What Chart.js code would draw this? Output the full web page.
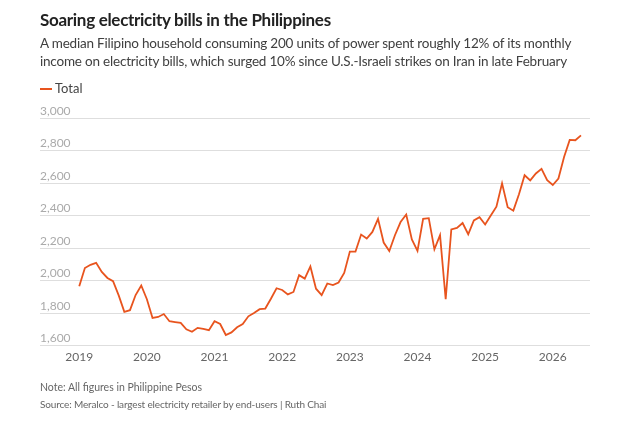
<!DOCTYPE html>
<html>
<head>
<meta charset="utf-8">
<script src="https://cdn.jsdelivr.net/npm/chart.js@4"></script>
<style>
  body { margin: 0; background: #fff; }
  #wrap { position: relative; width: 640px; height: 421px; overflow: hidden; font-family: Lato, sans-serif; }
  #chart { position: absolute; left: 0; top: 0; }
  .title { position: absolute; left: 40px; top: 9px; font-size: 17px; line-height: 22px; font-weight: 700; color: #222; letter-spacing: -0.3px; }
  .sub { position: absolute; left: 40px; top: 34px; font-size: 13.5px; line-height: 18px; color: #404040; width: 590px; letter-spacing: -0.2px; }
  .legend { position: absolute; left: 40px; top: 80px; font-size: 13px; line-height: 16px; color: #444; }
  .legend i { display: inline-block; width: 12px; height: 2px; background: #e8541e; vertical-align: middle; margin-right: 3px; position: relative; top: -1px; }
  .foot { position: absolute; left: 40px; top: 379px; font-size: 10.5px; line-height: 17px; color: #666; }
  .foot span { font-size: 10px; letter-spacing: -0.15px; }
</style>
</head>
<body>
<div id="wrap">
  <canvas id="chart" width="640" height="421"></canvas>
  <div class="title">Soaring electricity bills in the Philippines</div>
  <div class="sub">A median Filipino household consuming 200 units of power spent roughly 12% of its monthly<br>income on electricity bills, which surged 10% since U.S.-Israeli strikes on Iran in late February</div>
  <div class="legend"><i></i>Total</div>
  <div class="foot">Note: All figures in Philippine Pesos<br><span>Source: Meralco - largest electricity retailer by end-users | Ruth Chai</span></div>
</div>
<script>
// Monthly total bill, Jan 2019 .. Jun 2026 (pesos)
const firstYear = 2019;
const totals = [
  1965, 2077, 2097, 2109, 2053, 2016, 1996, 1909, 1808, 1818, 1911, 1970, // 2019
  1885, 1770, 1776, 1794, 1750, 1745, 1740, 1700, 1685, 1709, 1703, 1695, // 2020
  1750, 1733, 1665, 1681, 1713, 1733, 1780, 1800, 1824, 1828, 1888, 1953, // 2021
  1942, 1915, 1930, 2033, 2012, 2087, 1950, 1911, 1982, 1972, 1988, 2047, // 2022
  2178, 2178, 2283, 2259, 2299, 2380, 2234, 2182, 2279, 2360, 2406, 2253, // 2023
  2182, 2380, 2384, 2192, 2279, 1885, 2315, 2324, 2354, 2285, 2370, 2390, // 2024
  2345, 2400, 2454, 2598, 2451, 2430, 2531, 2648, 2616, 2659, 2687, 2618, // 2025
  2588, 2628, 2760, 2865, 2863, 2893                                      // 2026
];
const yearTicks = [2019, 2020, 2021, 2022, 2023, 2024, 2025, 2026];
const valueTicks = [1600, 1800, 2000, 2200, 2400, 2600, 2800, 3000];

const lineColor = '#e8541e';
const points = totals.map((v, i) => ({ x: firstYear + i / 12, y: v }));

new Chart(document.getElementById('chart'), {
  type: 'line',
  data: {
    datasets: [{
      label: 'Total',
      data: points,
      borderColor: lineColor,
      borderWidth: 1.8,
      pointRadius: 0,
      tension: 0,
      fill: false
    }]
  },
  options: {
    responsive: false,
    animation: false,
    layout: { padding: { left: 40, right: 50, top: 118, bottom: 53 } },
    plugins: { legend: { display: false }, tooltip: { enabled: false } },
    scales: {
      x: {
        type: 'linear',
        min: 2018.42,
        max: 2026.55,
        afterBuildTicks: s => { s.ticks = yearTicks.map(v => ({ value: v })); },
        grid: { display: false, drawTicks: false },
        border: { display: false },
        ticks: {
          color: '#666',
          padding: 4,
          font: { family: 'Lato', size: 12 },
          callback: v => String(v)
        }
      },
      y: {
        min: 1600,
        max: 3000,
        afterBuildTicks: s => { s.ticks = valueTicks.map(v => ({ value: v })); },
        grid: { color: '#dedede', lineWidth: 1, drawTicks: false },
        border: { display: false },
        ticks: {
          mirror: true,
          padding: 0,
          labelOffset: -7,
          color: '#aaa',
          font: { family: 'Lato', size: 12 },
          callback: v => v.toLocaleString('en-US')
        }
      }
    }
  }
});
</script>
</body>
</html>
